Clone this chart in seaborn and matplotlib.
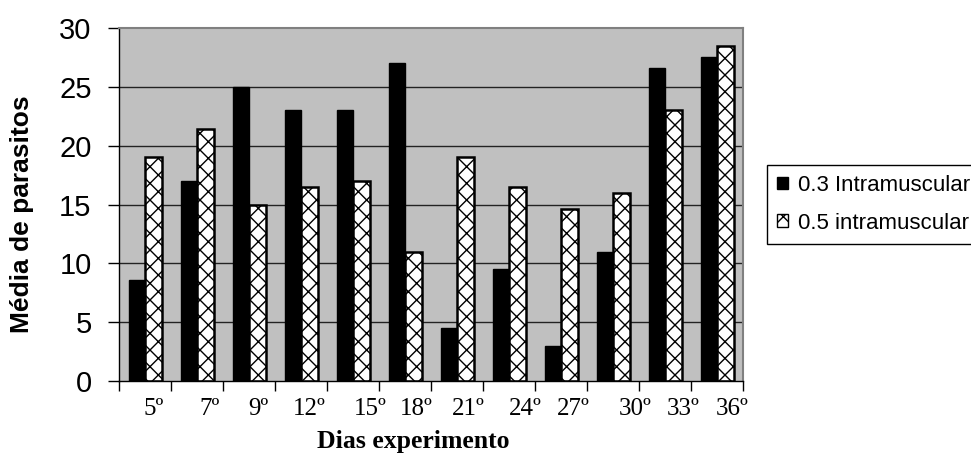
import matplotlib
matplotlib.use("Agg")
import matplotlib.pyplot as plt
from matplotlib.patches import Patch
import seaborn as sns
import pandas as pd
import numpy as np

# ---- data ----
days = ['5º', '7º', '9º', '12º', '15º', '18º', '21º', '24º', '27º', '30º', '33º', '36º']
series_names = ['0.3 Intramuscular', '0.5 intramuscular']
vals_03 = [8.6, 17, 25, 23, 23, 27, 4.5, 9.5, 3, 11, 26.6, 27.5]
vals_05 = [19, 21.4, 15, 16.5, 17, 11, 19, 16.5, 14.6, 16, 23, 28.5]
y_ticks = [0, 5, 10, 15, 20, 25, 30]

# label placement offsets (Excel-style shifted category labels)
label_shift = [0.17, 0.23, 0.17, 0.15, 0.32, 0.22, 0.21, 0.30, 0.23, 0.42, 0.35, 0.28]

df = pd.DataFrame({
    'dia': days * 2,
    'valor': vals_03 + vals_05,
    'serie': [series_names[0]] * len(days) + [series_names[1]] * len(days),
})

plt.rcParams['hatch.linewidth'] = 1.0
plt.rcParams['hatch.color'] = 'black'

fig = plt.figure(figsize=(9.71, 4.53), dpi=100)
ax = fig.add_axes([0.1229, 0.159, 0.6426, 0.779])
ax.set_facecolor('#C0C0C0')

sns.barplot(data=df, x='dia', y='valor', hue='serie', order=days,
            hue_order=series_names, palette=['black', 'white'],
            width=0.63, ax=ax, legend=False, saturation=1, zorder=3)

for p in ax.containers[0]:
    p.set_edgecolor('black')
    p.set_linewidth(1.0)
for p in ax.containers[1]:
    p.set_edgecolor('black')
    p.set_linewidth(1.8)
    p.set_hatch('xx')

ax.set_xlim(-0.5, len(days) - 0.5)
ax.set_ylim(0, 30)

# y axis
ax.set_yticks(y_ticks)
ax.set_yticklabels([str(t) for t in y_ticks], fontsize=21, family='Liberation Sans')
ax.tick_params(axis='y', direction='out', length=8, width=1, pad=12, colors='black')
for t in y_ticks[1:-1]:
    ax.axhline(t, color='#222222', linewidth=1.0, zorder=1)

# x axis: boundary ticks (major), shifted labels (minor)
ax.set_xticks(np.arange(-0.5, len(days), 1.0))
ax.set_xticklabels([])
ax.set_xticks(np.arange(len(days)) + np.array(label_shift), minor=True)
ax.set_xticklabels(days, minor=True, fontsize=18, family='Liberation Serif')
ax.tick_params(axis='x', which='major', direction='out', length=7.5, width=1)
ax.tick_params(axis='x', which='minor', length=0, pad=12)

ax.set_xlabel('Dias experimento', fontsize=18.5, fontweight='bold', family='Liberation Serif')
ax.xaxis.set_label_coords(0.471, -0.14)
ax.set_ylabel('Média de parasitos', fontsize=19, fontweight='bold', family='Liberation Sans')
ax.yaxis.set_label_coords(-0.137, 0.473)

for s in ['left', 'bottom']:
    ax.spines[s].set_color('black')
    ax.spines[s].set_linewidth(1.0)
for s in ['top', 'right']:
    ax.spines[s].set_color('#808080')
    ax.spines[s].set_linewidth(1.5)
ax.spines['bottom'].set_zorder(5)

handles = [Patch(facecolor='black', edgecolor='black', label=series_names[0]),
           Patch(facecolor='white', edgecolor='black', hatch='xx', label=series_names[1])]
leg = fig.legend(handles=handles, loc='upper left', bbox_to_anchor=(0.790, 0.636),
                 frameon=True, fancybox=False, shadow=False, framealpha=1,
                 edgecolor='black', prop={'family': 'Liberation Sans', 'size': 16},
                 handlelength=0.5, handleheight=0.5, handletextpad=0.45,
                 labelspacing=0.75, borderpad=0.45, borderaxespad=0)
leg.get_frame().set_linewidth(1.0)

fig.savefig('out.png', dpi=100)
